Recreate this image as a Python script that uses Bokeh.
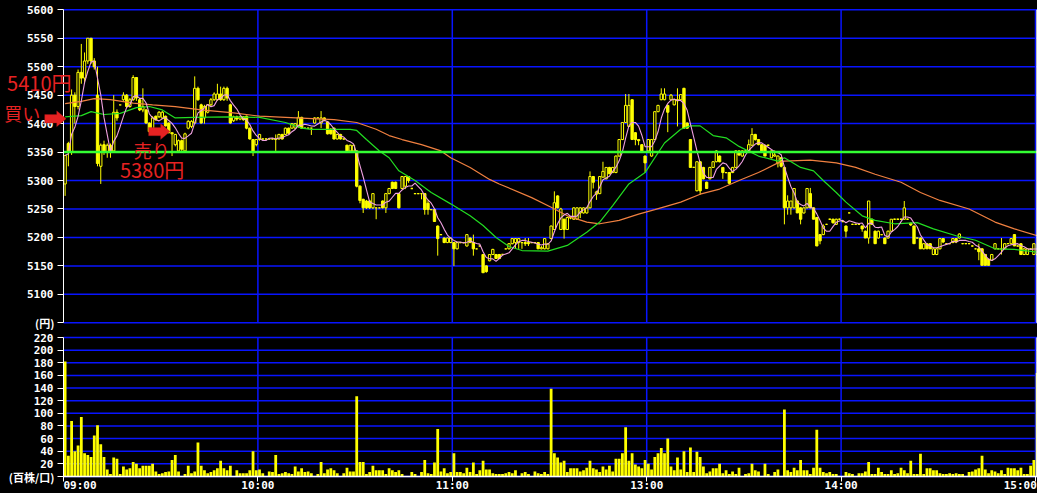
import numpy as np
import pandas as pd
from bokeh.plotting import figure
from bokeh.layouts import column
from bokeh.models import Range1d, FixedTicker, Label, PolyAnnotation
from bokeh.embed import file_html
from bokeh.resources import INLINE

# ---------------- data (1-minute bars, index 0 = 09:00, 150 = 12:30, 300 = 15:00) -------------
open_ = [
 5294,5365,5350,5450,5430,5490,5480,5510,5550,5510,
 5450,5325,5363,5350,5362,5352,5420,5433,5442,5450,
 5430,5442,5481,5442,5424,5424,5401,5390,5413,5412,
 5410,5413,5401,5384,5363,5352,5370,5352,5392,5395,
 5401,5462,5433,5410,5420,5433,5442,5442,5452,5442,
 5462,5433,5405,5412,5408,5412,5413,5392,5372,5363,
 5372,5373,5373,5373,5373,5372,5373,5381,5381,5392,
 5392,5392,5395,5411,5392,5392,5392,5401,5410,5401,
 5410,5403,5390,5392,5373,5381,5373,5362,5352,5352,
 5352,5290,5267,5264,5264,5252,5252,5252,5264,5252,
 5277,5297,5297,5277,5286,5290,5307,5286,5277,5277,
 5277,5277,5260,5249,5249,5220,5205,5199,5191,5191,
 5191,5180,5191,5191,5185,5199,5191,5180,5185,5170,
 5150,5159,5170,5170,5170,5170,5180,5180,5189,5191,
 5191,5191,5191,5191,5191,5191,5191,5180,5180,5180,
 5198,5214,5273,5214,5232,5214,5235,5232,5232,5243,
 5243,5243,5252,5307,5276,5277,5306,5303,5323,5314,
 5314,5343,5372,5402,5395,5442,5384,5372,5363,5343,
 5352,5343,5372,5421,5442,5442,5432,5442,5433,5442,
 5442,5462,5401,5372,5323,5282,5333,5323,5297,5303,
 5323,5333,5343,5323,5314,5314,5314,5323,5352,5343,
 5352,5352,5362,5381,5372,5363,5362,5362,5340,5343,
 5331,5340,5323,5252,5252,5252,5264,5252,5243,5252,
 5277,5252,5235,5205,5205,5223,5232,5232,5223,5232,
 5228,5220,5243,5223,5223,5223,5220,5211,5199,5232,
 5211,5199,5205,5199,5199,5211,5232,5232,5232,5232,
 5232,5225,5220,5199,5199,5180,5189,5189,5170,5170,
 5180,5198,5189,5189,5191,5198,5199,5189,5189,5189,
 5185,5180,5180,5180,5170,5162,5160,5180,5180,5180,
 5180,5189,5189,5205,5185,5189,5170,5170,5180,5170,
 5170]
high = [
 5345,5368,5460,5455,5495,5540,5525,5550,5550,5515,
 5500,5365,5370,5365,5365,5450,5425,5433,5455,5452,
 5445,5485,5481,5445,5462,5426,5402,5413,5414,5422,
 5422,5414,5402,5384,5382,5372,5372,5384,5406,5406,
 5483,5465,5435,5433,5434,5445,5455,5470,5465,5465,
 5465,5435,5414,5414,5414,5413,5414,5393,5373,5373,
 5382,5374,5374,5374,5374,5381,5382,5382,5393,5393,
 5401,5401,5422,5412,5393,5393,5393,5411,5411,5422,
 5411,5404,5392,5393,5382,5382,5374,5363,5363,5363,
 5353,5292,5268,5266,5266,5278,5253,5253,5265,5278,
 5287,5298,5298,5278,5308,5308,5307,5287,5278,5278,
 5278,5278,5265,5250,5250,5221,5206,5200,5200,5200,
 5192,5192,5192,5192,5206,5200,5205,5181,5186,5171,
 5151,5170,5180,5171,5171,5171,5181,5190,5199,5199,
 5199,5192,5199,5199,5192,5192,5192,5185,5199,5190,
 5221,5281,5274,5252,5233,5236,5236,5253,5253,5253,
 5253,5253,5316,5308,5282,5308,5333,5323,5324,5324,
 5344,5373,5402,5452,5452,5443,5385,5373,5364,5344,
 5373,5373,5421,5433,5462,5462,5433,5452,5443,5462,
 5452,5463,5402,5373,5324,5333,5334,5324,5298,5324,
 5334,5353,5344,5323,5315,5315,5324,5353,5353,5353,
 5353,5372,5392,5382,5373,5364,5363,5363,5353,5353,
 5344,5341,5324,5274,5264,5286,5265,5253,5253,5286,
 5287,5253,5236,5206,5223,5224,5233,5233,5233,5233,
 5229,5221,5244,5224,5224,5224,5221,5212,5264,5233,
 5212,5212,5206,5200,5212,5232,5233,5233,5233,5264,
 5233,5226,5221,5200,5200,5190,5190,5190,5181,5181,
 5199,5199,5190,5190,5199,5199,5207,5190,5190,5190,
 5186,5181,5189,5181,5171,5163,5171,5190,5181,5199,
 5190,5190,5199,5206,5186,5190,5181,5181,5181,5190,
 5171]
low = [
 5273,5325,5345,5400,5425,5470,5470,5505,5505,5495,
 5325,5294,5345,5340,5340,5350,5405,5432,5440,5428,
 5428,5440,5440,5422,5420,5400,5384,5388,5405,5410,
 5408,5395,5383,5343,5360,5350,5350,5350,5390,5392,
 5400,5440,5400,5400,5418,5430,5440,5440,5440,5440,
 5440,5400,5403,5405,5406,5405,5390,5372,5343,5360,
 5370,5372,5372,5372,5372,5352,5372,5372,5380,5381,
 5391,5391,5393,5391,5391,5391,5380,5400,5409,5392,
 5405,5381,5381,5372,5372,5372,5372,5351,5351,5351,
 5288,5260,5243,5250,5250,5250,5232,5251,5251,5243,
 5276,5285,5285,5251,5285,5285,5296,5285,5276,5276,
 5267,5240,5240,5248,5228,5168,5204,5190,5190,5190,
 5150,5179,5190,5190,5184,5190,5168,5179,5184,5138,
 5138,5158,5169,5162,5162,5169,5179,5179,5188,5180,
 5180,5180,5185,5185,5190,5190,5180,5179,5179,5179,
 5197,5213,5251,5213,5198,5213,5232,5231,5231,5234,
 5242,5242,5251,5286,5266,5276,5305,5302,5311,5313,
 5313,5342,5371,5401,5394,5372,5362,5362,5351,5314,
 5351,5342,5371,5420,5441,5441,5385,5441,5432,5395,
 5441,5392,5391,5323,5322,5281,5275,5302,5286,5302,
 5322,5332,5332,5303,5313,5295,5313,5322,5343,5342,
 5350,5351,5361,5370,5362,5350,5343,5361,5339,5342,
 5323,5323,5223,5240,5240,5251,5243,5223,5242,5251,
 5251,5232,5185,5188,5204,5222,5231,5224,5222,5231,
 5227,5200,5242,5222,5222,5222,5210,5199,5189,5222,
 5189,5198,5204,5189,5198,5210,5231,5231,5231,5231,
 5231,5220,5189,5198,5180,5179,5180,5180,5169,5169,
 5179,5190,5188,5188,5190,5190,5198,5188,5188,5188,
 5184,5179,5160,5151,5151,5151,5159,5179,5179,5170,
 5179,5188,5188,5185,5184,5170,5169,5169,5179,5169,
 5169]
close = [
 5344,5350,5450,5430,5490,5480,5510,5550,5510,5500,
 5330,5362,5350,5362,5350,5420,5410,5433,5450,5430,
 5442,5481,5445,5424,5430,5401,5386,5410,5407,5420,
 5420,5396,5384,5382,5381,5370,5355,5382,5404,5404,
 5462,5442,5401,5430,5433,5442,5452,5452,5442,5462,
 5445,5401,5412,5408,5412,5407,5392,5373,5352,5372,
 5381,5373,5373,5373,5373,5373,5381,5373,5392,5383,
 5400,5400,5411,5392,5392,5392,5392,5410,5410,5410,
 5406,5382,5382,5373,5381,5373,5373,5352,5362,5362,
 5290,5265,5252,5252,5252,5277,5252,5252,5252,5277,
 5286,5286,5286,5252,5307,5307,5300,5286,5277,5277,
 5277,5249,5249,5249,5228,5198,5205,5191,5199,5199,
 5180,5191,5191,5191,5205,5191,5180,5180,5185,5138,
 5140,5170,5179,5163,5163,5170,5180,5189,5198,5198,
 5198,5191,5189,5189,5191,5191,5180,5182,5198,5189,
 5220,5261,5252,5250,5214,5235,5234,5252,5252,5252,
 5252,5252,5307,5297,5280,5307,5316,5323,5312,5323,
 5343,5372,5402,5432,5432,5372,5372,5370,5352,5331,
 5372,5372,5421,5432,5452,5452,5420,5450,5442,5440,
 5451,5392,5392,5323,5323,5333,5282,5303,5286,5323,
 5333,5352,5333,5314,5314,5295,5323,5352,5345,5352,
 5352,5363,5381,5372,5363,5352,5343,5362,5352,5345,
 5343,5325,5252,5264,5264,5286,5243,5232,5252,5286,
 5252,5232,5185,5194,5220,5223,5232,5226,5232,5232,
 5228,5211,5243,5223,5223,5223,5215,5199,5264,5223,
 5189,5211,5205,5189,5211,5232,5232,5232,5232,5252,
 5232,5222,5189,5199,5180,5189,5180,5180,5180,5180,
 5198,5192,5189,5189,5198,5192,5206,5189,5189,5189,
 5185,5180,5175,5151,5151,5151,5170,5189,5180,5180,
 5189,5189,5198,5185,5185,5170,5180,5180,5180,5189,
 5170]
# volume (100 shares)
volume = [
 182,33,88,40,49,94,37,34,31,65,
 81,51,31,11,4,30,28,4,16,11,
 13,23,20,13,17,17,17,20,8,4,
 5,7,8,26,34,8,0,4,17,5,
 8,54,17,10,5,7,10,13,25,13,
 10,17,0,10,5,5,5,10,40,10,
 11,5,0,8,7,34,4,5,7,5,
 4,16,8,13,7,8,5,0,4,23,
 5,11,13,10,5,0,5,14,8,8,
 127,23,23,4,7,17,10,10,10,4,
 13,10,7,10,4,0,0,7,4,0,
 7,26,5,4,22,75,8,13,5,7,
 37,7,7,5,14,7,22,4,10,25,
 11,11,5,4,4,4,5,7,5,10,
 0,5,7,4,0,8,5,4,7,4,
 139,37,30,22,25,7,13,13,13,8,
 10,14,25,13,11,7,16,11,17,8,
 28,28,37,78,25,37,19,16,13,26,
 20,11,31,37,45,37,60,16,10,30,
 11,40,7,46,7,39,31,16,5,8,
 13,13,20,5,10,4,8,4,14,0,
 4,5,20,10,8,0,20,4,0,7,
 11,0,106,10,7,14,10,26,10,10,
 4,14,74,14,7,5,7,4,4,0,
 0,7,5,4,0,5,5,8,23,4,
 4,14,7,4,4,10,4,5,14,10,
 5,25,4,4,36,4,13,13,10,10,
 5,4,4,5,4,5,4,4,0,7,
 8,11,13,33,11,5,10,8,5,10,
 4,14,13,13,10,14,4,4,17,26,
 164]

# medium moving average (green): minute index -> price
ma_mid_t = [0,5,8,12,17,22,26,30,34,40,50,60,68,73,76,82,88,90,93,97,100,103,108,113,119,125,129,133,
            137,141,149,155,161,165,169,174,179,185,190,193,196,200,204,208,214,220,222,227,231,234,
            238,241,246,250,256,263,268,275,281,287,293,300]
ma_mid = [5412,5414,5421,5416,5418,5428,5430,5424,5410,5411,5412,5411,5402,5392,5390,5390,5390,5388,
          5372,5352,5340,5317,5300,5279,5259,5238,5221,5200,5184,5177,5176,5186,5209,5227,5256,5294,
          5314,5366,5390,5396,5396,5379,5375,5360,5343,5334,5340,5323,5317,5300,5279,5262,5238,5230,
          5224,5226,5215,5203,5195,5180,5179,5174]
# long moving average (orange)
ma_long_t = [0,5,9,14,21,27,34,42,52,60,68,83,90,96,100,104,110,116,119,125,131,134,144,150,155,161,
             165,171,177,182,190,196,202,208,214,220,222,230,238,244,250,258,264,270,279,287,293,300]
ma_long = [5435,5439,5444,5442,5436,5433,5430,5424,5419,5413,5411,5407,5402,5390,5379,5372,5363,5352,
           5340,5323,5302,5294,5270,5253,5238,5227,5224,5230,5241,5249,5262,5276,5285,5300,5314,5331,
           5334,5336,5331,5323,5311,5297,5279,5265,5250,5227,5215,5203]

ref_price = 5350           # green reference line
buy_price, sell_price = 5410, 5380

price_ticks = [5050, 5100, 5150, 5200, 5250, 5300, 5350, 5400, 5450, 5500, 5550, 5600]
vol_ticks = [0, 20, 40, 60, 80, 100, 120, 140, 160, 180, 200, 220]
time_ticks = [0, 60, 120, 180, 240, 300]
time_labels = ["09:00", "10:00", "11:00", "13:00", "14:00", "15:00"]

# ---------------- preparation ----------------
n = min(len(open_), len(high), len(low), len(close), len(volume))
df = pd.DataFrame(dict(o=open_[:n], h=high[:n], l=low[:n], c=close[:n], v=volume[:n]))
df["x"] = np.arange(n) + 0.5
df["top"] = df[["o", "c"]].max(axis=1)
df["bot"] = df[["o", "c"]].min(axis=1)
df["xl"] = df["x"] - 0.36
df["xr"] = df["x"] + 0.36
up = df[df.c > df.o]
dn = df[df.c < df.o]
fl = df[df.c == df.o]
ma_short = pd.Series(df["c"]).rolling(5, min_periods=1).mean()

YEL = "#FFFF00"
BLUE = "#0814FF"
RED = "#E62222"
AXF = "DejaVu Sans Mono"
JPF = "Noto Sans CJK JP"

W = 1037                      # canvas width
AX0 = 63                      # pixel where the time axis starts
SX = 3.24                     # pixels per minute
X0 = -AX0 / SX
X1 = (W - AX0) / SX
XR_EDGE = X1 - 0.15

H_P, H_V = 330, 163
Y_P = (5036.5, 5616.3)
Y_V = (-26.9, 231.1)
Y_TIME_LABEL = -14.6


def style_y(ax, bnds):
    ax.fixed_location = 0
    ax.bounds = bnds
    ax.axis_line_color = "white"
    ax.major_tick_line_color = "white"
    ax.major_tick_out = 6
    ax.major_tick_in = 0
    ax.minor_tick_line_color = None
    ax.major_label_text_color = "white"
    ax.major_label_text_font = AXF
    ax.major_label_text_font_style = "bold"
    ax.major_label_text_font_size = "11px"
    ax.major_label_standoff = 4


def make_fig(h, yr):
    f = figure(frame_width=W, frame_height=h, x_range=Range1d(X0, X1), y_range=Range1d(*yr),
               toolbar_location=None, output_backend="svg",
               background_fill_color="black", border_fill_color="black",
               min_border_left=0, min_border_right=0, min_border_top=0, min_border_bottom=0)
    f.outline_line_color = None
    f.xgrid.visible = False
    f.ygrid.visible = False
    return f


def grid(f, ticks):
    f.segment(x0=0, y0=ticks, x1=XR_EDGE, y1=ticks, line_color=BLUE, line_width=1.5)
    f.segment(x0=time_ticks[1:], y0=ticks[0], x1=time_ticks[1:], y1=ticks[-1],
              line_color=BLUE, line_width=1.5)


def right_edge(f, ticks):
    f.segment(x0=XR_EDGE, y0=ticks[0], x1=XR_EDGE, y1=ticks[-1], line_color="white", line_width=1.5)


# ---------------- price panel ----------------
p = make_fig(H_P, Y_P)
p.xaxis.visible = False
p.yaxis.ticker = FixedTicker(ticks=price_ticks)
p.yaxis.major_label_overrides = {5050: ""}
style_y(p.yaxis[0], (price_ticks[0], price_ticks[-1]))
grid(p, price_ticks)

p.segment(x0="x", y0="l", x1="x", y1="h", source=df, line_color=YEL, line_width=1)
p.vbar(x="x", width=0.72, top="top", bottom="bot", source=up, fill_color="black",
       line_color=YEL, line_width=1)
p.vbar(x="x", width=0.72, top="top", bottom="bot", source=dn, fill_color=YEL,
       line_color=YEL, line_width=1)
p.segment(x0="xl", y0="c", x1="xr", y1="c", source=fl, line_color=YEL, line_width=1.3)

p.line(np.array(ma_long_t) + 0.5, ma_long, line_color="#F08040", line_width=1.2)
p.line(np.array(ma_mid_t) + 0.5, ma_mid, line_color="#22DD22", line_width=1.2)
p.line(df["x"], ma_short, line_color="#F0A0E0", line_width=1.1)

p.segment(x0=0, y0=ref_price, x1=XR_EDGE, y1=ref_price, line_color="#33FF33", line_width=2.6)
right_edge(p, price_ticks)

p.add_layout(Label(x=-2.8, y=5050, text="(円)", text_align="right", text_baseline="middle",
                   text_color="white", text_font=JPF, text_font_style="bold",
                   text_font_size="11px"))

# annotations (buy / sell)
kx, ky = 1 / SX, 550 / 313.0


def arrow(tx, ty):
    pts = [(0, 0), (-9.5, 8), (-9.5, 4.2), (-21.5, 4.2), (-21.5, -4.2), (-9.5, -4.2), (-9.5, -8)]
    xs = [tx + a * kx for a, b in pts]
    ys = [ty + b * ky for a, b in pts]
    return PolyAnnotation(xs=xs, ys=ys, fill_color=RED, fill_alpha=1, line_color="#A01010",
                          line_width=1)


p.add_layout(arrow(0.83, buy_price - 1.5))
p.add_layout(arrow(32.9, sell_price + 6))
p.add_layout(Label(x=-17.4, y=5473, text=f"{buy_price}円", text_align="left", text_baseline="middle",
                   text_color=RED, text_font=JPF, text_font_size="20px"))
p.add_layout(Label(x=-18.3, y=5419, text="買い", text_align="left", text_baseline="middle",
                   text_color=RED, text_font=JPF, text_font_size="18px"))
p.add_layout(Label(x=21.7, y=5354, text="売り", text_align="left", text_baseline="middle",
                   text_color=RED, text_font=JPF, text_font_size="18px"))
p.add_layout(Label(x=17.4, y=5319, text=f"{sell_price}円", text_align="left", text_baseline="middle",
                   text_color=RED, text_font=JPF, text_font_size="20px"))

# ---------------- volume panel ----------------
v = make_fig(H_V, Y_V)
v.x_range = p.x_range
v.yaxis.ticker = FixedTicker(ticks=vol_ticks)
v.yaxis.major_label_overrides = {0: ""}
style_y(v.yaxis[0], (vol_ticks[0], vol_ticks[-1]))
xa = v.xaxis[0]
xa.fixed_location = 0
xa.bounds = (0, XR_EDGE)
xa.ticker = FixedTicker(ticks=time_ticks)
xa.major_label_overrides = {t: "" for t in time_ticks}
xa.axis_line_color = "white"
xa.axis_line_width = 1.5
xa.major_tick_line_color = "white"
xa.major_tick_out = 5
xa.major_tick_in = 0
xa.minor_tick_line_color = None
xa.major_label_text_font_size = "1px"
xa.major_label_standoff = 0
grid(v, vol_ticks)

v.vbar(x="x", width=0.86, top="v", bottom=0, source=df, fill_color=YEL, line_color=None)
right_edge(v, vol_ticks)

v.add_layout(Label(x=-2.8, y=0, text="(百株/口)", text_align="right", text_baseline="middle",
                   text_color="white", text_font=JPF, text_font_style="bold",
                   text_font_size="11px"))
for tk, lb in zip(time_ticks, time_labels):
    al = "left" if tk == time_ticks[0] else ("right" if tk == time_ticks[-1] else "center")
    v.add_layout(Label(x=tk + (0.4 if al == "right" else 0), y=Y_TIME_LABEL, text=lb, text_align=al,
                       text_baseline="middle", text_color="white", text_font=AXF,
                       text_font_style="bold", text_font_size="11px"))

layout = column(p, v, spacing=0)
layout.background = "black"
open("out.html", "w").write(file_html(layout, INLINE))
